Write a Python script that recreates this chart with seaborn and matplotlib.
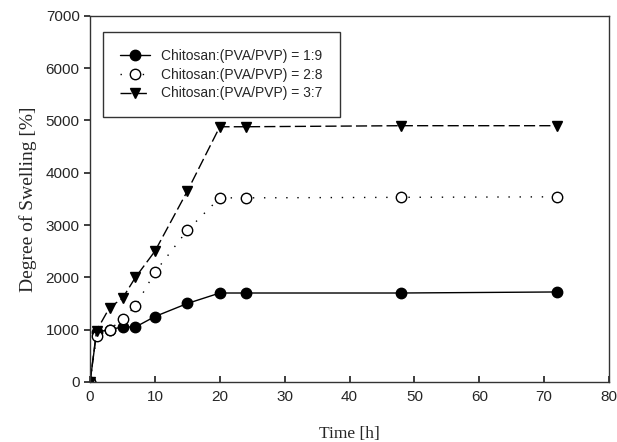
import pandas as pd
import seaborn as sns
import matplotlib.pyplot as plt

time_h = [0, 1, 3, 5, 7, 10, 15, 20, 24, 48, 72]
swell_19 = [0, 950, 1000, 1050, 1050, 1250, 1500, 1700, 1700, 1700, 1720]
swell_28 = [0, 870, 1000, 1200, 1450, 2100, 2900, 3520, 3520, 3530, 3540]
swell_37 = [0, 980, 1420, 1600, 2000, 2500, 3650, 4880, 4880, 4900, 4900]
labels = ['Chitosan:(PVA/PVP) = 1:9', 'Chitosan:(PVA/PVP) = 2:8', 'Chitosan:(PVA/PVP) = 3:7']

df = pd.DataFrame({'Time': time_h, labels[0]: swell_19, labels[1]: swell_28, labels[2]: swell_37})
df = df.melt(id_vars='Time', var_name='Ratio', value_name='Swelling')

sns.set_theme(style='ticks')
plt.rcParams['font.family'] = ['Liberation Sans', 'DejaVu Sans']

fig = plt.figure(figsize=(6.17, 4.42), dpi=100)
ax = fig.add_axes([0.146, 0.136, 0.841, 0.828])

styles = {
    labels[0]: dict(marker='o', mfc='black', dashes=None),
    labels[1]: dict(marker='o', mfc='white', dashes=(1, 7)),
    labels[2]: dict(marker='v', mfc='black', dashes=(8, 3)),
}
for lab in labels:
    sub = df[df['Ratio'] == lab]
    st = styles[lab]
    sns.lineplot(data=sub, x='Time', y='Swelling', ax=ax, color='black',
                 marker=st['marker'], markersize=7.5, markerfacecolor=st['mfc'],
                 markeredgecolor='black', markeredgewidth=1, linewidth=1,
                 label=lab)
    if st['dashes'] is not None:
        ax.lines[-1].set_dashes(st['dashes'])

ax.set_xlim(0, 80)
ax.set_ylim(0, 7000)
ax.set_xticks(range(0, 81, 10))
ax.set_yticks(range(0, 7001, 1000))
ax.tick_params(axis='x', direction='in', length=4, labelsize=11, pad=6)
ax.tick_params(axis='y', direction='out', length=4, labelsize=11)
for s in ax.spines.values():
    s.set_linewidth(1)
    s.set_color('#333333')

ax.set_xlabel('Time [h]', family='Liberation Serif', fontsize=12.5, labelpad=16)
ax.set_ylabel('Degree of Swelling [%]', family='Liberation Serif', fontsize=14, labelpad=6)

leg = ax.legend(loc='upper left', bbox_to_anchor=(0.025, 0.956), fontsize=10,
                frameon=True, fancybox=False, borderpad=1.2, handlelength=2.2,
                labelspacing=0.35, borderaxespad=0)
leg.get_frame().set_edgecolor('black')
leg.get_frame().set_linewidth(1)

plt.savefig('out.png', dpi=100)
